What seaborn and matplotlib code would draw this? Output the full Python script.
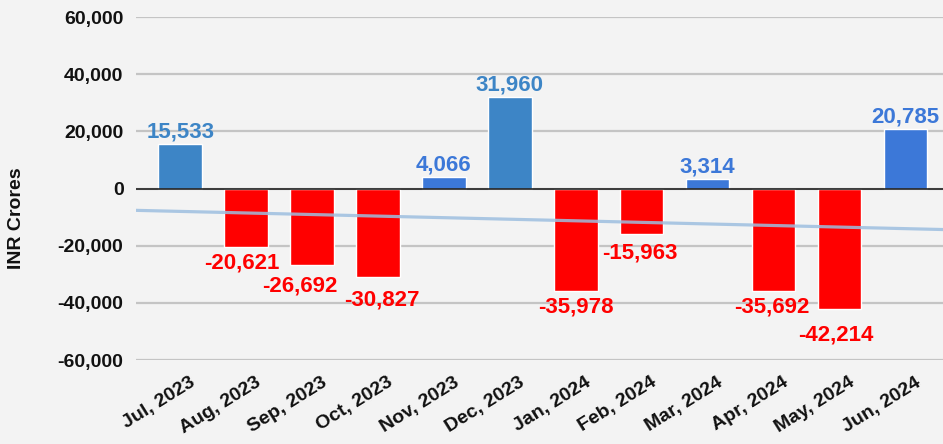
import numpy as np
import pandas as pd
import matplotlib
matplotlib.use("Agg")
import matplotlib.pyplot as plt
from matplotlib.transforms import ScaledTranslation
import seaborn as sns

months = ["Jul, 2023", "Aug, 2023", "Sep, 2023", "Oct, 2023", "Nov, 2023", "Dec, 2023",
          "Jan, 2024", "Feb, 2024", "Mar, 2024", "Apr, 2024", "May, 2024", "Jun, 2024"]
net_flow = [15533, -20621, -26692, -30827, 4066, 31960,
            -35978, -15963, 3314, -35692, -42214, 20785]
bar_colors = ["#3d85c6", "#ff0000", "#ff0000", "#ff0000", "#3c78d8", "#3d85c6",
              "#ff0000", "#ff0000", "#3c78d8", "#ff0000", "#ff0000", "#3c78d8"]
y_ticks = [-60000, -40000, -20000, 0, 20000, 40000, 60000]

# extra nudges (points) that keep neighbouring value labels from colliding
label_dx = [0, -3, -9, 3, 0, 0, 0, -1, 0, -1, -3, 0]
label_dy = [0, 0, -4, -5, 0, 0, 0, -2, 0, 0, -7, 0]

df = pd.DataFrame({"month": months, "value": net_flow})

sns.set_theme(style="white")
plt.rcParams["font.family"] = ["Liberation Sans", "DejaVu Sans"]
bg = "#f3f3f3"

fig = plt.figure(figsize=(9.43, 4.44), dpi=100, facecolor=bg)
ax = fig.add_axes([136 / 943, 1 - 360 / 444, 1 - 136 / 943, (360 - 17) / 444])
ax.set_facecolor(bg)

sns.barplot(data=df, x="month", y="value", hue="month", palette=bar_colors,
            legend=False, width=0.66, saturation=1, ax=ax, zorder=2)

# linear trend across the months
xs = np.arange(len(net_flow))
slope, intercept = np.polyfit(xs, net_flow, 1)
x_lim = (-0.67, 11.57)
xl = np.array(x_lim)
sns.lineplot(x=xl, y=slope * xl + intercept, color="#9dbfe0", alpha=0.85,
             linewidth=2.3, ax=ax, zorder=4)

ax.set_xlim(*x_lim)
ax.set_ylim(-60000, 60000)
ax.set_yticks(y_ticks)
ax.set_yticklabels([f"{v:,}" for v in y_ticks], fontsize=14, fontweight="bold", color="#111111")
ax.yaxis.grid(True, color="#c4c4c4", linewidth=1.6, zorder=0)
ax.set_axisbelow(True)
ax.axhline(0, color="#222222", linewidth=1.2, zorder=3)
for s in ax.spines.values():
    s.set_visible(False)
ax.tick_params(axis="y", length=0, pad=9)
ax.tick_params(axis="x", length=0, pad=10)

ax.set_xticks(xs)
ax.set_xticklabels(months, rotation=32, ha="right", va="top", rotation_mode="anchor",
                   fontsize=14, fontweight="bold", color="#111111")
for lab in ax.get_xticklabels():
    lab.set_transform(lab.get_transform() + ScaledTranslation(9 / 100, 0, fig.dpi_scale_trans))

ax.set_xlabel("")
ax.set_ylabel("INR Crores", fontsize=14, fontweight="bold", color="#111111")
ax.yaxis.set_label_coords(-111 / 807, 0.414)

for i, (v, c) in enumerate(zip(net_flow, bar_colors)):
    if v >= 0:
        ax.annotate(f"{v:,}", (i, v), xytext=(label_dx[i], 1 + label_dy[i]),
                    textcoords="offset points", ha="center", va="bottom",
                    fontsize=16, fontweight="bold", color=c, zorder=5)
    else:
        ax.annotate(f"{v:,}", (i, v), xytext=(label_dx[i], -4 + label_dy[i]),
                    textcoords="offset points", ha="center", va="top",
                    fontsize=16, fontweight="bold", color=c, zorder=5)

fig.savefig("out.png", dpi=100, facecolor=bg)
